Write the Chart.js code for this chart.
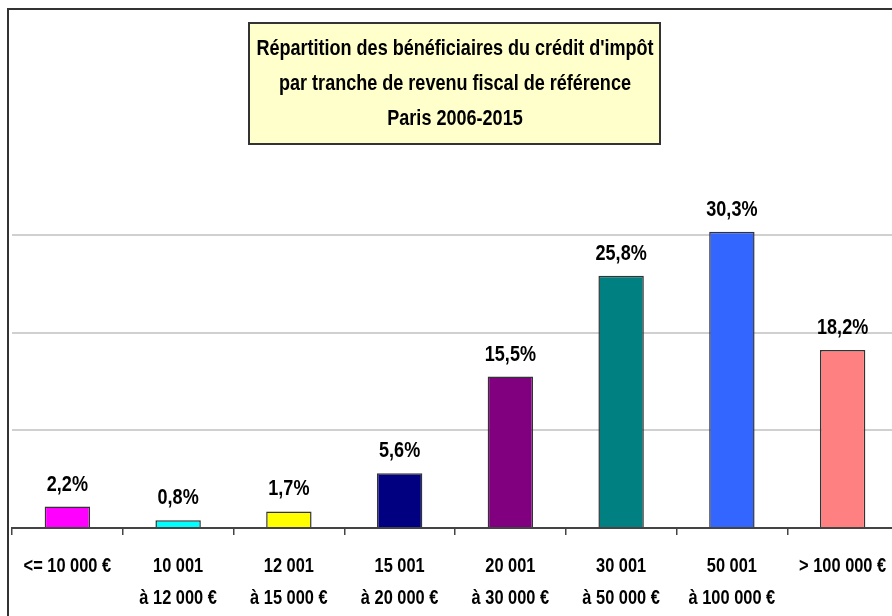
<!DOCTYPE html>
<html>
<head>
<meta charset="utf-8">
<script src="https://cdn.jsdelivr.net/npm/chart.js@4.4.1/dist/chart.umd.min.js"></script>
<style>
  html, body { margin: 0; padding: 0; background: #fff; overflow: hidden; }
  #clip { position: absolute; left: 0; top: 0; width: 892px; height: 616px; overflow: hidden; }
  #frame { position: absolute; left: 7px; top: 8px; width: 900px; height: 620px;
           border-left: 2px solid #333; border-top: 2px solid #333; }
  #wrap { position: absolute; left: 0; top: 0; width: 900px; height: 616px; }
  #titre { position: absolute; left: 248px; top: 22px; width: 413px; height: 123px;
           box-sizing: border-box; background: #ffffcc; border: 2px solid #333;
           font-family: "Liberation Sans", Arial, sans-serif; font-weight: bold;
           font-size: 22px; line-height: 35px; padding-top: 6px; color: #000; }
  #titre div { width: 600px; margin-left: -95.5px; text-align: center; white-space: nowrap;
               transform: scaleX(0.82); }
</style>
</head>
<body>
<div id="clip">
  <div id="frame"></div>
  <div id="wrap"><canvas id="graphique" width="900" height="616"></canvas></div>
  <div id="titre">
    <div>Répartition des bénéficiaires du crédit d'impôt</div>
    <div>par tranche de revenu fiscal de référence</div>
    <div>Paris 2006-2015</div>
  </div>
</div>
<script>
// tranches de revenu fiscal
var tranches = [
  ["<= 10 000 €"],
  ["10 001", "à 12 000 €"],
  ["12 001", "à 15 000 €"],
  ["15 001", "à 20 000 €"],
  ["20 001", "à 30 000 €"],
  ["30 001", "à 50 000 €"],
  ["50 001", "à 100 000 €"],
  ["> 100 000 €"]
];
// part des bénéficiaires en %
var parts = [2.2, 0.8, 1.7, 5.6, 15.5, 25.8, 30.3, 18.2];
var couleurs = ["#ff00ff", "#00ffff", "#ffff00", "#000080", "#800080", "#008080", "#3366ff", "#ff8080"];
var graduations = [10, 20, 30];

var police = '"Liberation Sans", Arial, sans-serif';
var etroit = 0.82; // pas de police "narrow" installée, on compresse le texte

// texte compressé horizontalement
function texteEtroit(ctx, txt, x, y) {
  ctx.save();
  ctx.translate(x, y);
  ctx.scale(etroit, 1);
  ctx.fillText(txt, 0, 0);
  ctx.restore();
}

// plugin pour écrire les valeurs au dessus des barres et les libellés de l'axe
var etiquettes = {
  id: "etiquettes",
  afterDatasetsDraw: function(chart) {
    var ctx = chart.ctx;
    var meta = chart.getDatasetMeta(0);
    ctx.save();
    ctx.font = "bold 22px " + police;
    ctx.fillStyle = "#000";
    ctx.textAlign = "center";
    ctx.textBaseline = "bottom";
    meta.data.forEach(function(barre, i) {
      var txt = parts[i].toFixed(1).replace(".", ",") + "%";
      texteEtroit(ctx, txt, barre.x, barre.y - 11);
    });
    ctx.restore();
  },
  afterDraw: function(chart) {
    var ctx = chart.ctx;
    var axeX = chart.scales.x;
    ctx.save();
    ctx.font = "bold 20px " + police;
    ctx.fillStyle = "#000";
    ctx.textAlign = "center";
    ctx.textBaseline = "middle";
    tranches.forEach(function(lignes, i) {
      var x = axeX.getPixelForValue(i);
      lignes.forEach(function(l, j) {
        texteEtroit(ctx, l, x, axeX.bottom + 31 + j * 32);
      });
    });
    ctx.restore();
  }
};

var ctx = document.getElementById("graphique").getContext("2d");
var monGraphique = new Chart(ctx, {
  type: "bar",
  data: {
    labels: tranches,
    datasets: [{
      data: parts,
      backgroundColor: couleurs,
      borderColor: "#333",
      borderWidth: 1.5,
      borderSkipped: "bottom",
      barPercentage: 0.41,
      categoryPercentage: 1
    }]
  },
  options: {
    responsive: false,
    animation: false,
    layout: { padding: { left: 12, right: 2, top: 137, bottom: 81 } },
    plugins: {
      legend: { display: false },
      tooltip: { enabled: false },
      title: { display: false }
    },
    scales: {
      x: {
        grid: { drawOnChartArea: false, drawTicks: true, tickLength: 7, color: "#444", lineWidth: 1.5 },
        border: { color: "#444", width: 2 },
        ticks: { display: false }
      },
      y: {
        min: 0,
        max: 40,
        ticks: { display: false, stepSize: 10 },
        border: { display: false },
        grid: {
          drawTicks: false,
          lineWidth: 2,
          color: function(c) {
            return graduations.indexOf(c.tick.value) >= 0 ? "#d0d0d0" : "rgba(0,0,0,0)";
          }
        }
      }
    }
  },
  plugins: [etiquettes]
});
</script>
</body>
</html>
